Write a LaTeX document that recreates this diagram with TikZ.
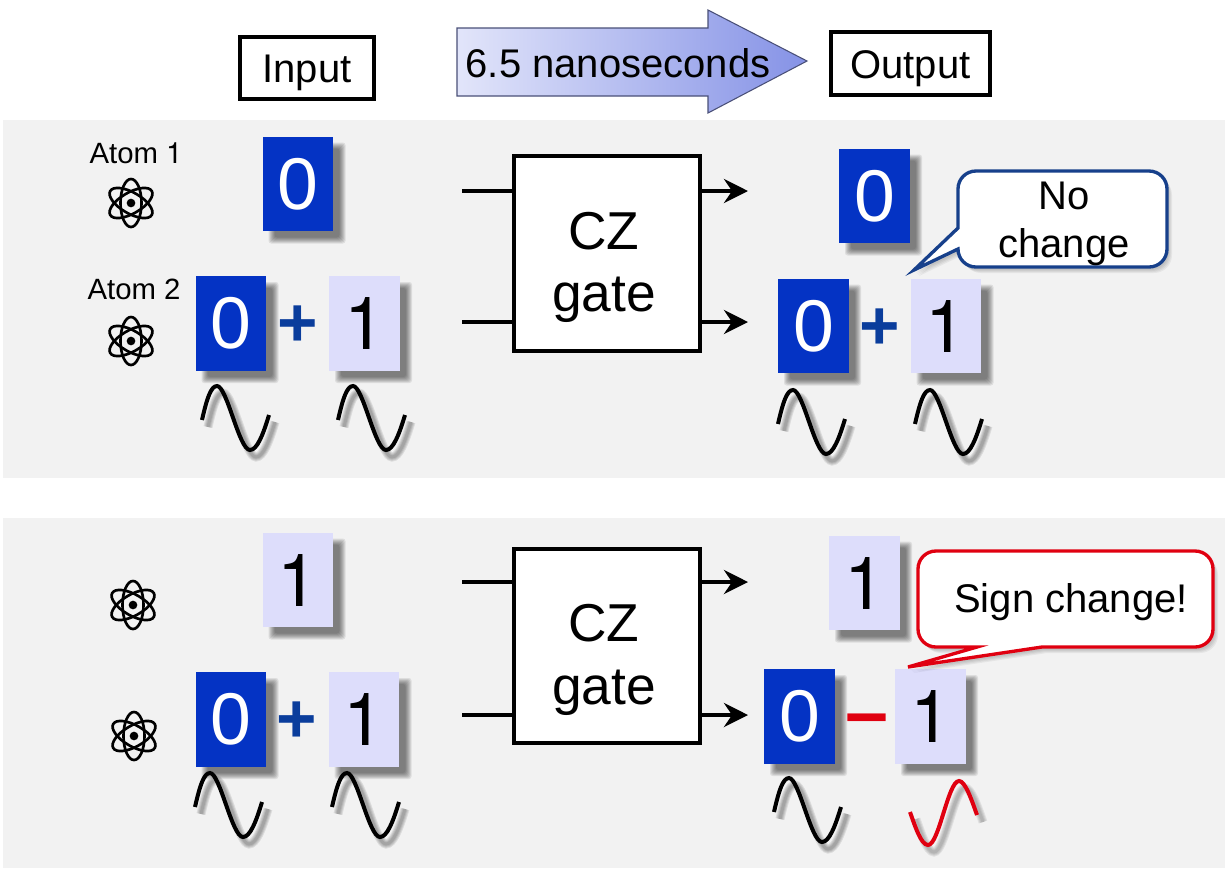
\documentclass[tikz,border=0pt]{standalone}
\usepackage{fontspec}
\setmainfont{Liberation Sans}
\newfontfamily\heros{TeX Gyre Heros}
\usetikzlibrary{arrows.meta}
\definecolor{panel}{HTML}{F2F2F2}
\definecolor{tiledark}{HTML}{0433C4}
\definecolor{tilelight}{HTML}{DDDDFB}
\definecolor{plusblue}{HTML}{0A3D9C}
\definecolor{calloutblue}{HTML}{17408B}
\definecolor{signred}{HTML}{E00010}
\definecolor{arrowleft}{HTML}{E2E5FA}
\definecolor{arrowright}{HTML}{8592E6}
\definecolor{arrowedge}{HTML}{4A5078}
\newcommand{\fsz}[1]{\fontsize{#1}{#1}\selectfont}
\tikzset{
  paneltone/.style={fill=panel,draw=none},
  labelbox/.style={draw=black,line width=3pt,fill=white,inner sep=0pt,text=black,font=\fsz{30}},
  gatebox/.style={draw=black,line width=3pt,fill=white,inner sep=0pt,minimum width=140pt,minimum height=146pt,align=center,font={\fontsize{40}{47}\selectfont}},
  wire/.style={draw=black,line width=3pt},
  outwire/.style={wire,-{Stealth[length=18pt,width=18pt,inset=6pt]}},
  tilebase/.style={minimum width=53pt,minimum height=71pt,inner sep=0pt,font=\fsz{55}},
  tiledarkst/.style={tilebase,fill=tiledark,text=white},
  tilelightst/.style={tilebase,fill=tilelight,text=black,font={\heros\fsz{55}}},
  atomlabel/.style={font=\fsz{22},text=black,inner sep=0pt,anchor=base},
  signtext/.style={font={\bfseries\fsz{52}},inner sep=0pt,anchor=center},
  calltext/.style={font={\fontsize{30}{35.5}\selectfont},align=center,inner sep=0pt,text=black},
  waveline/.style={line width=3pt,line cap=butt},
  atomline/.style={draw=black,line width=2pt,fill=none}
}
% tile: name, centre x, centre y, style, digit
\newcommand{\tile}[5]{%
  \foreach \s in {0,...,6}{%
    \fill[black,opacity=.085,rounded corners=2pt]
      ({#2-35.5+9-3+\s},{#3-47.5+9-3+\s}) rectangle ({#2+35.5+9+3-\s},{#3+47.5+9+3-\s});
  }%
  \node[#4] (#1) at (#2,#3) {#5};%
}
\newcommand{\wavepath}{(0,0) .. controls (5,-22) and (9,-34) .. (15,-34) .. controls (25,-34) and (37,30) .. (48,30) .. controls (55,30) and (61,15) .. (67,-5)}
\newcommand{\redwavepath}{(0,0) .. controls (5,14) and (11,33) .. (18,33) .. controls (29,33) and (38,-31) .. (49,-31) .. controls (55,-31) and (61,-14) .. (67,3)}
\newcommand{\wave}[3]{%
  \foreach \w in {9,7,5,3}{%
    \draw[black,opacity=.09,line width=\w*.75pt,shift={(#1+6,#2+7)}] \wavepath;
  }%
  \draw[waveline,#3,shift={(#1,#2)}] \wavepath;%
}
\newcommand{\redwave}[3]{%
  \foreach \w in {9,7,5,3}{%
    \draw[black,opacity=.07,line width=\w*.75pt,shift={(#1+6,#2+7)}] \redwavepath;
  }%
  \draw[waveline,#3,shift={(#1,#2)}] \redwavepath;%
}
\newcommand{\atom}[3]{%
  \begin{scope}[shift={(#2,#3)}]
    \node[circle,fill=black,inner sep=0pt,minimum size=6.5pt] (#1) at (0,0) {};
    \draw[atomline] (0,0) circle[x radius=24,y radius=10.5,rotate=90];
    \draw[atomline] (0,0) circle[x radius=24,y radius=10.5,rotate=30];
    \draw[atomline] (0,0) circle[x radius=24,y radius=10.5,rotate=-30];
  \end{scope}%
}
\newcommand{\nopath}{(958,249) .. controls (958,259) and (966,267) .. (976,267) -- (1149,267) .. controls (1159,267) and (1167,259) .. (1167,249) -- (1167,189) .. controls (1167,179) and (1159,171) .. (1149,171) -- (976,171) .. controls (966,171) and (958,179) .. (958,189) -- (958,228) -- (914,270) -- cycle}
\newcommand{\signpath}{(977,647) -- (936,647) .. controls (926,647) and (918,639) .. (918,629) -- (918,569) .. controls (918,559) and (926,551) .. (936,551) -- (1195,551) .. controls (1205,551) and (1213,559) .. (1213,569) -- (1213,629) .. controls (1213,639) and (1205,647) .. (1195,647) -- (1042,647) -- (908,667) -- cycle}
\begin{document}
\begin{tikzpicture}[x=0.75pt,y=-0.75pt]
\useasboundingbox (0,0) rectangle (1225,869);
\fill[white] (0,0) rectangle (1225,869);
\path[paneltone] (3,120) rectangle (1225,478);
\path[paneltone] (3,518) rectangle (1225,868);

% header
\node[labelbox,minimum width=100pt,minimum height=46pt] (input) at (307,68) {\raisebox{-10.5pt}[0pt][0pt]{Input}};
\node[labelbox,minimum width=119pt,minimum height=47pt] (output) at (910.5,63.5) {\raisebox{-10.9pt}[0pt][0pt]{Output}};
\path[draw=arrowedge,line width=.8pt,left color=arrowleft,right color=arrowright]
  (457,28) -- (708,28) -- (708,10) -- (807,61) -- (708,113) -- (708,96) -- (457,96) -- cycle;
\node[font=\fsz{30},inner sep=0pt,anchor=base] (time) at (618,77) {6.5 nanoseconds};

% upper panel
\node[atomlabel] (a1) at (136,163) {Atom {\heros 1}};
\node[atomlabel] (a2) at (134,299) {Atom 2};
\atom{ua}{131}{203}
\atom{ub}{131}{341}
\tile{u0}{298}{184}{tiledarkst}{0}
\tile{u1}{231}{323.5}{tiledarkst}{0}
\node[signtext,text=plusblue] (uplus) at (298,326) {+};
\tile{u2}{364.5}{323.5}{tilelightst}{1}
\wave{202}{420}{black}
\wave{338}{420}{black}
\node[gatebox] (gate1) at (607,253.5) {CZ\rule{0pt}{49pt}\hspace*{4.5pt}\\gate\hspace*{4.5pt}};
\coordinate (ui1) at (462,191);
\coordinate (ui2) at (462,322);
\coordinate (uo1) at (748,191);
\coordinate (uo2) at (748,322);
\draw[wire] (ui1) -- (ui1 -| gate1.west);
\draw[wire] (ui2) -- (ui2 -| gate1.west);
\draw[outwire] (uo1 -| gate1.east) -- (uo1);
\draw[outwire] (uo2 -| gate1.east) -- (uo2);
\tile{u3}{874.5}{196}{tiledarkst}{0}
\tile{u4}{813.5}{326}{tiledarkst}{0}
\node[signtext,text=plusblue] (uplus2) at (880,329) {+};
\tile{u5}{946}{326}{tilelightst}{1}
\wave{778}{424}{black}
\wave{915}{424}{black}
\foreach \s in {0,...,3}{\fill[black,opacity=.05,shift={(2+\s,3+\s)}] \nopath;}
\draw[draw=calloutblue,line width=2.5pt,fill=white,line join=miter] \nopath;
\node[calltext] (nochange) at (1064,224) {No\\change};

% lower panel
\atom{la}{133}{605}
\atom{lb}{134}{736}
\tile{l0}{298}{580}{tilelightst}{1}
\tile{l1}{231}{719.5}{tiledarkst}{0}
\node[signtext,text=plusblue] (lplus) at (297,722) {+};
\tile{l2}{364}{719.5}{tilelightst}{1}
\wave{195}{807}{black}
\wave{332}{807}{black}
\node[gatebox] (gate2) at (607,646) {CZ\rule{0pt}{49pt}\hspace*{4.5pt}\\gate\hspace*{4.5pt}};
\coordinate (li1) at (462,582);
\coordinate (li2) at (462,715);
\coordinate (lo1) at (748,582);
\coordinate (lo2) at (748,715);
\draw[wire] (li1) -- (li1 -| gate2.west);
\draw[wire] (li2) -- (li2 -| gate2.west);
\draw[outwire] (lo1 -| gate2.east) -- (lo1);
\draw[outwire] (lo2 -| gate2.east) -- (lo2);
\tile{l3}{864.5}{583}{tilelightst}{1}
\tile{l4}{799.5}{716.5}{tiledarkst}{0}
\node[signtext,text=signred,font={\bfseries\fsz{58}}] (lminus) at (866.5,726.5) {–};
\tile{l5}{930.5}{716.5}{tilelightst}{1}
\wave{774}{812}{black}
\redwave{910}{812}{signred}
\foreach \s in {0,...,3}{\fill[black,opacity=.05,shift={(2+\s,3+\s)}] \signpath;}
\draw[draw=signred,line width=2.5pt,fill=white,line join=miter] \signpath;
\node[font=\fsz{30},inner sep=0pt,anchor=base] (signchange) at (1071,612) {Sign change!};
\end{tikzpicture}
\end{document}
